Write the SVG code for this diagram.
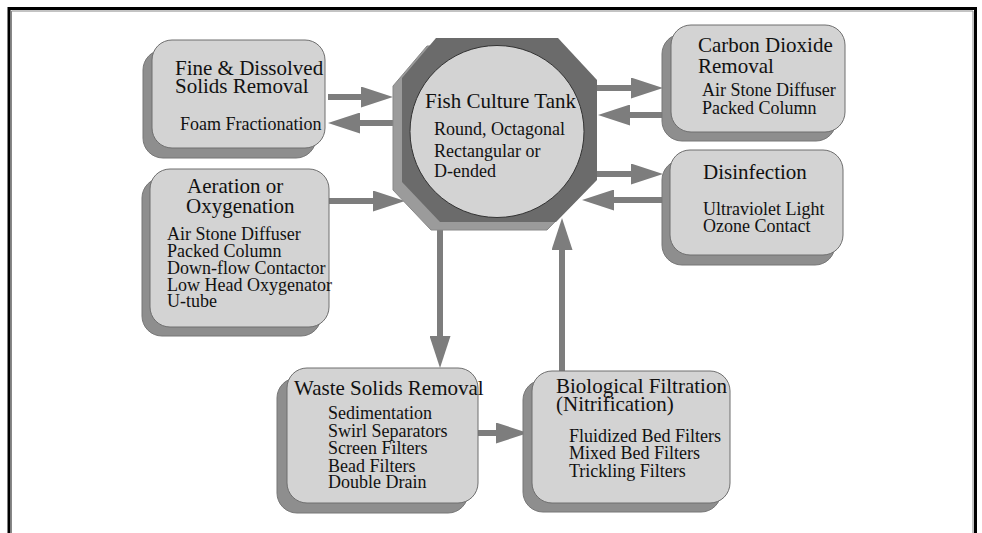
<svg xmlns="http://www.w3.org/2000/svg" width="982" height="533" viewBox="0 0 982 533">
<defs>
<style>
.shadow{fill:#8e8e8e;stroke:#777;stroke-width:1}
.box{fill:#d3d3d3;stroke:#6e6e6e;stroke-width:1}
.t{font-family:"Liberation Serif","Times New Roman",serif;font-size:21px;fill:#111}
.s{font-family:"Liberation Serif","Times New Roman",serif;font-size:18px;fill:#111}
.arr{stroke:#7d7d7d;stroke-width:6;fill:none;marker-end:url(#ah)}
</style>
<marker id="ah" markerUnits="userSpaceOnUse" markerWidth="32" markerHeight="21" refX="12" refY="10.5" orient="auto">
<path d="M0,0 L32,10.5 L0,21 Z" fill="#7d7d7d"/>
</marker>
</defs>
<rect width="982" height="533" fill="#fff"/>
<g id="frame">
<path d="M9,533 V8.5 H975.5 V533" fill="none" stroke="#000" stroke-width="3"/>
<path d="M11.5,533 V11 H973 V533" fill="none" stroke="#888" stroke-width="1"/>
</g>
<g id="connectors">
<line class="arr" x1="328" y1="97" x2="373" y2="97"/>
<line class="arr" x1="402" y1="123" x2="348" y2="123"/>
<line class="arr" x1="597" y1="88" x2="643" y2="88"/>
<line class="arr" x1="663" y1="115" x2="618" y2="115"/>
<line class="arr" x1="597" y1="174" x2="643" y2="174"/>
<line class="arr" x1="663" y1="200" x2="602" y2="200"/>
<line class="arr" x1="329" y1="201" x2="385" y2="201"/>
<line class="arr" x1="440" y1="228" x2="440" y2="348"/>
<line class="arr" x1="478" y1="433" x2="508" y2="433"/>
<line class="arr" x1="562" y1="371" x2="562" y2="238"/>
</g>
<g id="tank">
<polygon points="427,46 549,46 588,88 588,188 547,230 431,230 393,190 393,86" fill="#9b9b9b" stroke="#888" stroke-width="1"/>
<polygon points="436,38 558,38 597,80 597,180 556,222 440,222 402,182 402,78" fill="#6b6b6b"/>
<ellipse cx="497" cy="131.5" rx="87" ry="86" fill="#d3d3d3" stroke="#333" stroke-width="1"/>
<text class="t" x="425" y="108">Fish Culture Tank</text>
<text class="s" x="434" y="135">Round, Octagonal</text>
<text class="s" x="434" y="157">Rectangular or</text>
<text class="s" x="434" y="177">D-ended</text>
</g>
<g id="fine">
<rect class="shadow" x="143" y="50" width="173" height="108" rx="20"/>
<rect class="box" x="152" y="40" width="173" height="108" rx="20"/>
<text class="t" x="175" y="75">Fine &amp; Dissolved</text>
<text class="t" x="175" y="93">Solids Removal</text>
<text class="s" x="180" y="130">Foam Fractionation</text>
</g>
<g id="co2">
<rect class="shadow" x="662" y="34" width="174" height="107" rx="20"/>
<rect class="box" x="671" y="25" width="174" height="107" rx="20"/>
<text class="t" x="698" y="52">Carbon Dioxide</text>
<text class="t" x="698" y="73">Removal</text>
<text class="s" x="702" y="96">Air Stone Diffuser</text>
<text class="s" x="702" y="114">Packed Column</text>
</g>
<g id="disinfection">
<rect class="shadow" x="662" y="160" width="173" height="105" rx="20"/>
<rect class="box" x="670" y="150" width="173" height="105" rx="20"/>
<text class="t" x="703" y="179">Disinfection</text>
<text class="s" x="703" y="215">Ultraviolet Light</text>
<text class="s" x="703" y="232">Ozone Contact</text>
</g>
<g id="aeration">
<rect class="shadow" x="142" y="178" width="179" height="158" rx="20"/>
<rect class="box" x="150" y="169" width="179" height="158" rx="20"/>
<text class="t" x="187" y="193">Aeration or</text>
<text class="t" x="186" y="213">Oxygenation</text>
<text class="s" x="167" y="240">Air Stone Diffuser</text>
<text class="s" x="167" y="257">Packed Column</text>
<text class="s" x="167" y="274">Down-flow Contactor</text>
<text class="s" x="167" y="291">Low Head Oxygenator</text>
<text class="s" x="167" y="307">U-tube</text>
</g>
<g id="waste">
<rect class="shadow" x="277" y="378" width="191" height="135" rx="20"/>
<rect class="box" x="287" y="368" width="191" height="135" rx="20"/>
<text class="t" x="294" y="395">Waste Solids Removal</text>
<text class="s" x="328" y="419">Sedimentation</text>
<text class="s" x="328" y="437">Swirl Separators</text>
<text class="s" x="328" y="454">Screen Filters</text>
<text class="s" x="328" y="472">Bead Filters</text>
<text class="s" x="328" y="488">Double Drain</text>
</g>
<g id="bio">
<rect class="shadow" x="523" y="380" width="198" height="132" rx="20"/>
<rect class="box" x="532" y="371" width="198" height="132" rx="20"/>
<text class="t" x="556" y="393">Biological Filtration</text>
<text class="t" x="556" y="411">(Nitrification)</text>
<text class="s" x="569" y="442">Fluidized Bed Filters</text>
<text class="s" x="569" y="459">Mixed Bed Filters</text>
<text class="s" x="569" y="477">Trickling Filters</text>
</g>
</svg>
